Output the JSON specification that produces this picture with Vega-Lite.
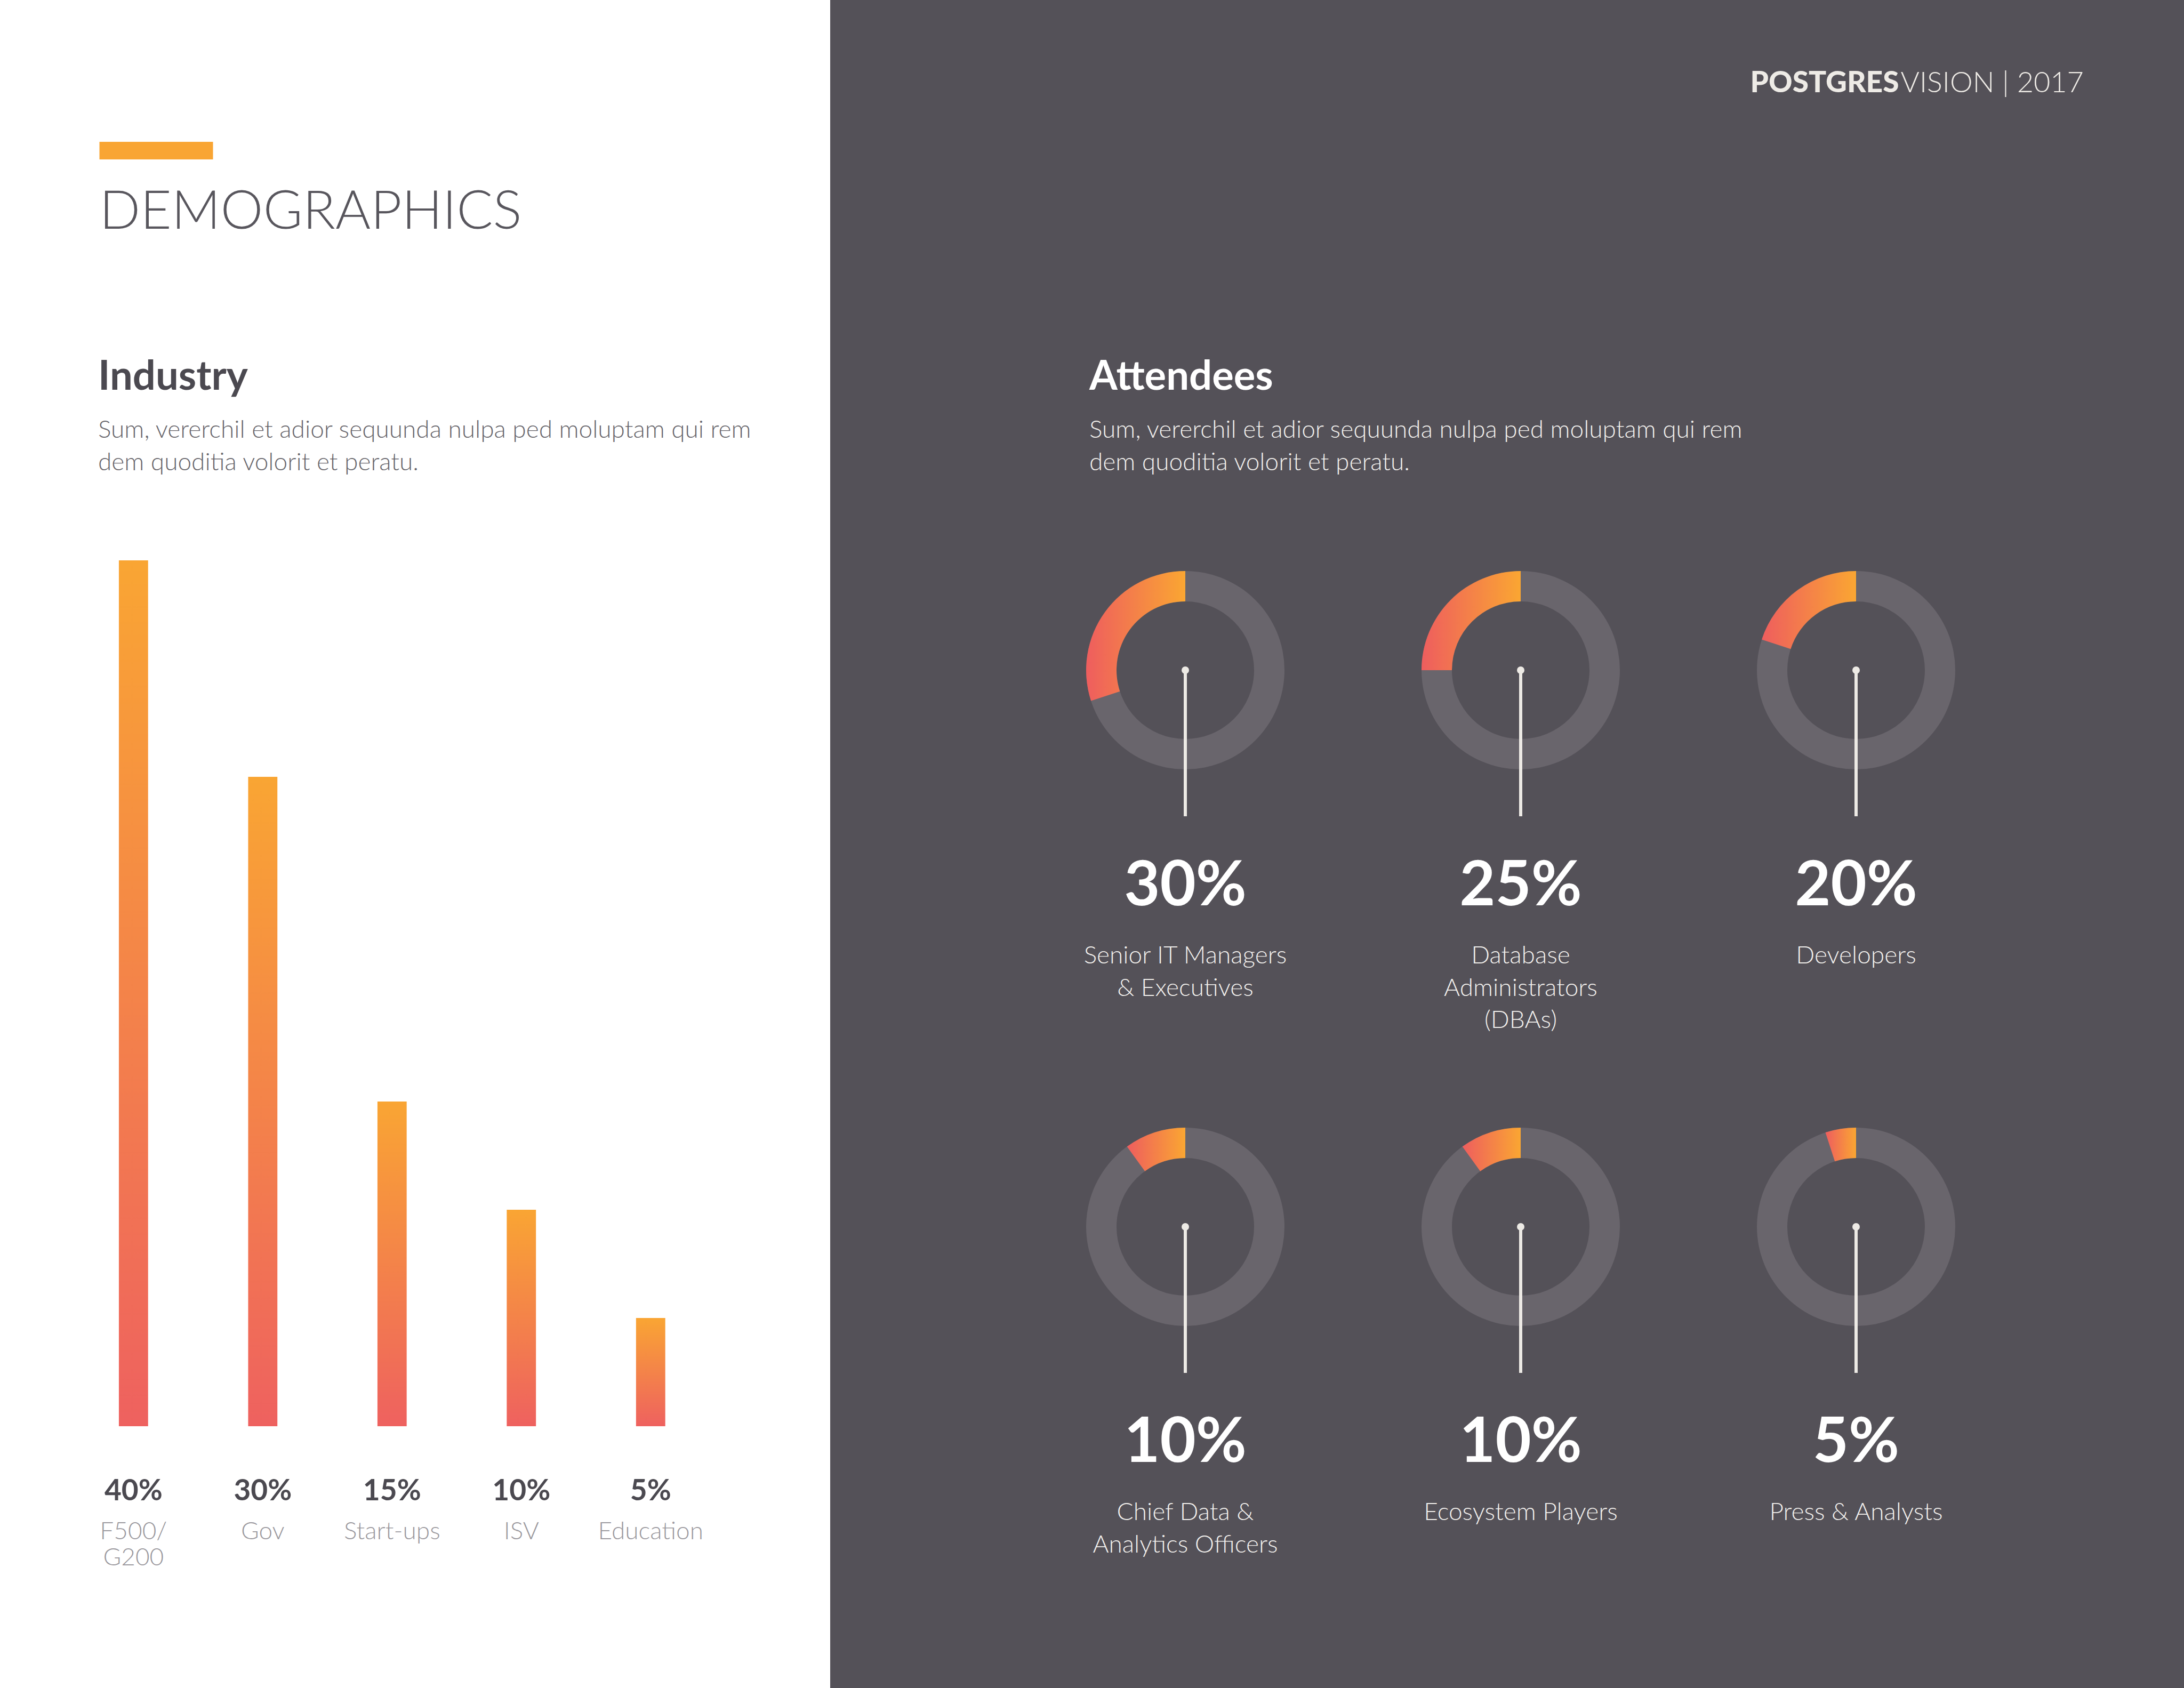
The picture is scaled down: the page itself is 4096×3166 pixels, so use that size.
{
  "$schema": "https://vega.github.io/schema/vega-lite/v6.json",
  "background": "#545158",
  "padding": 0,
  "spacing": 351.5,
  "bounds": "flush",
  "config": {"font": "Lato", "view": {"stroke": null}},
  "hconcat": [
    {
      "width": 1557,
      "height": 3166,
      "view": {"fill": "#ffffff", "stroke": null},
      "title": {
        "text": "Industry",
        "subtitle": ["Sum, vererchil et adior sequunda nulpa ped moluptam qui rem", "dem quoditia volorit et peratu."],
        "anchor": "start",
        "frame": "group",
        "orient": "top",
        "baseline": "alphabetic",
        "offset": -951.5,
        "dx": 184,
        "font": "Lato",
        "fontSize": 76,
        "fontWeight": 700,
        "color": "#4B4950",
        "subtitleFont": "Lato",
        "subtitleFontSize": 46,
        "subtitleFontWeight": 300,
        "subtitleColor": "#68666C",
        "subtitleLineHeight": 60.5,
        "subtitlePadding": 14
      },
      "data": {"values": [
        {"industry": "F500/\nG200", "share": 0.40},
        {"industry": "Gov", "share": 0.30},
        {"industry": "Start-ups", "share": 0.15},
        {"industry": "ISV", "share": 0.10},
        {"industry": "Education", "share": 0.05}
      ]},
      "encoding": {
        "x": {
          "field": "industry", "type": "nominal", "sort": null, "axis": null,
          "scale": {"range": [129.1, 1341.5], "paddingInner": 0.774, "paddingOuter": 0.387}
        }
      },
      "layer": [
        {
          "mark": {
            "type": "bar",
            "stroke": null,
            "fill": {"gradient": "linear", "x1": 0, "y1": 0, "x2": 0, "y2": 1,
              "stops": [{"offset": 0, "color": "#F9A533"}, {"offset": 1, "color": "#EE615F"}]}
          },
          "encoding": {
            "y": {
              "field": "share", "type": "quantitative",
              "scale": {"domain": [0, 0.6], "range": [2675, 239], "nice": false},
              "axis": {
                "orient": "left", "offset": -399, "values": [0.58941],
                "labels": false, "domain": false, "grid": false,
                "ticks": true, "tickSize": 213, "tickWidth": 33, "tickColor": "#F9A533",
                "tickCap": "butt", "tickOpacity": 1,
                "title": "DEMOGRAPHICS",
                "titleX": -213, "titleY": 428, "titleAngle": 0,
                "titleAlign": "left", "titleBaseline": "alphabetic",
                "titleFont": "Lato", "titleFontSize": 101, "titleFontWeight": 300,
                "titleColor": "#58565D"
              }
            }
          }
        },
        {
          "mark": {"type": "text", "dy": 1231, "baseline": "alphabetic", "align": "center",
            "font": "Lato", "fontSize": 55, "fontWeight": 700, "color": "#4B4950"},
          "encoding": {
            "text": {"field": "share", "format": ".0%"}
          }
        },
        {
          "mark": {"type": "text", "dy": 1304, "baseline": "alphabetic", "align": "center",
            "lineBreak": "\n", "lineHeight": 49,
            "font": "Lato", "fontSize": 46, "fontWeight": 300, "color": "#9B999E"},
          "encoding": {
            "text": {"field": "industry"}
          }
        }
      ]
    },
    {
      "spacing": 0,
      "bounds": "flush",
      "vconcat": [
        {
          "width": 2187.5,
          "height": 907,
          "data": {"values": []},
          "mark": {"type": "point", "opacity": 0},
          "title": {
            "text": "Attendees",
            "subtitle": ["Sum, vererchil et adior sequunda nulpa ped moluptam qui rem", "dem quoditia volorit et peratu."],
            "anchor": "start",
            "frame": "group",
            "orient": "top",
            "baseline": "alphabetic",
            "offset": -951.5,
            "dx": 134.5,
            "font": "Lato",
            "fontSize": 76,
            "fontWeight": 700,
            "color": "#FFFFFF",
            "subtitleFont": "Lato",
            "subtitleFontSize": 46,
            "subtitleFontWeight": 300,
            "subtitleColor": "#F2F0ED",
            "subtitleLineHeight": 60.5,
            "subtitlePadding": 14
          },
          "encoding": {
            "x": {
              "field": "share", "type": "quantitative", "scale": {"domain": [0, 1]},
              "axis": {
                "orient": "top", "labels": false, "ticks": false, "domain": false, "grid": false,
                "title": "POSTGRES", "titleX": 1652.5, "titleY": 172.5, "titleAngle": 0,
                "titleAlign": "right", "titleBaseline": "alphabetic",
                "titleFont": "Lato", "titleFontSize": 55, "titleFontWeight": 900, "titleColor": "#EEEBE6"
              }
            },
            "y": {
              "field": "share", "type": "quantitative", "scale": {"domain": [0, 1]},
              "axis": {
                "orient": "left", "labels": false, "ticks": false, "domain": false, "grid": false,
                "title": "VISION | 2017", "titleX": 1655.5, "titleY": 172.5, "titleAngle": 0,
                "titleAlign": "left", "titleBaseline": "alphabetic",
                "titleFont": "Lato", "titleFontSize": 54, "titleFontWeight": 300, "titleColor": "#EEEBE6"
              }
            }
          }
        },
        {
          "data": {"values": [
            {"role": "Senior IT Managers\n& Executives", "share": 0.30},
            {"role": "Database\nAdministrators\n(DBAs)", "share": 0.25},
            {"role": "Developers", "share": 0.20},
            {"role": "Chief Data &\nAnalytics Officers", "share": 0.10},
            {"role": "Ecosystem Players", "share": 0.10},
            {"role": "Press & Analysts", "share": 0.05}
          ]},
          "columns": 3,
          "spacing": {"row": 344, "column": 0},
          "bounds": "flush",
          "facet": {
            "field": "role", "type": "nominal",
            "sort": ["Senior IT Managers\n& Executives", "Database\nAdministrators\n(DBAs)", "Developers", "Chief Data &\nAnalytics Officers", "Ecosystem Players", "Press & Analysts"],
            "header": {"labels": false, "title": null, "labelExpr": "''"}
          },
          "spec": {
            "width": 629,
            "height": 700,
            "layer": [
              {
                "mark": {"type": "arc", "radius": 186, "radius2": 129, "theta": 0, "theta2": 6.2832,
                  "fill": "#69656C", "stroke": null}
              },
              {
                "mark": {"type": "arc", "radius": 186, "radius2": 129, "stroke": null,
                  "fill": {"gradient": "linear", "x1": 0, "y1": 0, "x2": 1, "y2": 0,
                    "stops": [{"offset": 0, "color": "#EE5D5E"}, {"offset": 1, "color": "#FAA632"}]}},
                "encoding": {
                  "theta": {"field": "share", "type": "quantitative", "stack": null,
                    "scale": {"domain": [0, 1], "range": [0, -6.2832]}},
                  "theta2": {"datum": 0}
                }
              },
              {
                "mark": {"type": "point", "shape": "M-0.0109,0L0.0109,0L0.0109,1L-0.0109,1Z",
                  "size": 300304, "filled": true, "color": "#EDEAE5", "opacity": 1, "strokeWidth": 0}
              },
              {
                "mark": {"type": "point", "shape": "circle", "size": 196, "filled": true,
                  "color": "#EDEAE5", "opacity": 1, "strokeWidth": 0}
              },
              {
                "mark": {"type": "text", "dy": 441, "baseline": "alphabetic", "align": "center",
                  "font": "Lato", "fontSize": 116, "fontWeight": 700, "color": "#FFFFFF"},
                "encoding": {"text": {"field": "share", "format": ".0%"}}
              },
              {
                "mark": {"type": "text", "dy": 550, "baseline": "alphabetic", "align": "center",
                  "lineBreak": "\n", "lineHeight": 60.5,
                  "font": "Lato", "fontSize": 46, "fontWeight": 300, "color": "#F2F0ED"},
                "encoding": {"text": {"field": "role"}}
              }
            ]
          }
        }
      ]
    }
  ]
}
